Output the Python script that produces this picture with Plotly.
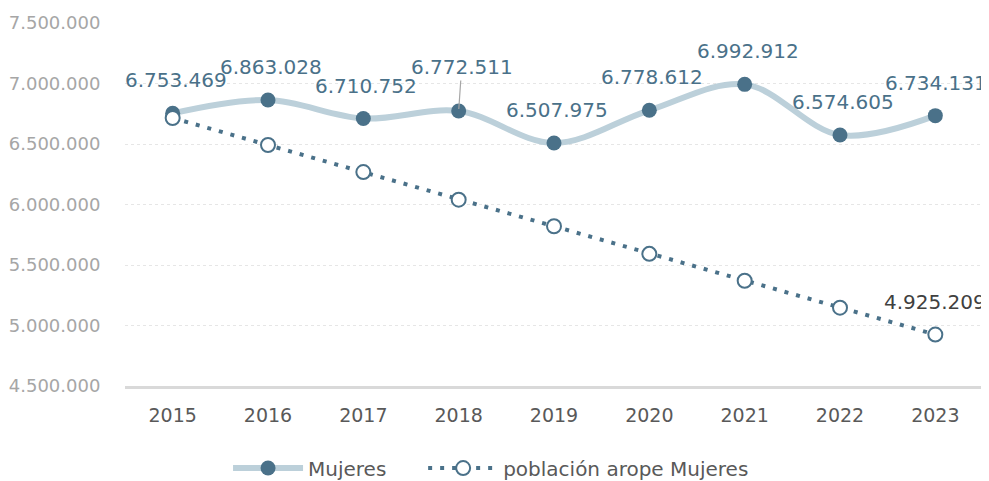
import plotly.graph_objects as go

years = [2015, 2016, 2017, 2018, 2019, 2020, 2021, 2022, 2023]
mujeres = [6753469, 6863028, 6710752, 6772511, 6507975, 6778612, 6992912, 6574605, 6734131]
arope = [6715000, 6492000, 6268000, 6040000, 5820000, 5592000, 5370000, 5147000, 4925209]
y_ticks = [4500000, 5000000, 5500000, 6000000, 6500000, 7000000, 7500000]
series_names = ["Mujeres", "población arope Mujeres"]


def fmt(v):
    return f"{v:,}".replace(",", ".")


FONT = "DejaVu Sans"
BLUE = "#4A7189"
LIGHT = "#BCD0DA"
PAD = "\u00a0" * 5

fig = go.Figure()
fig.add_trace(go.Scatter(
    x=years, y=mujeres, name=series_names[0] + PAD, mode="lines+markers",
    line=dict(color=LIGHT, width=6, shape="spline", smoothing=1.0),
    marker=dict(color=BLUE, size=15, line=dict(width=0)),
))
fig.add_trace(go.Scatter(
    x=years, y=arope, name=series_names[1], mode="lines+markers",
    line=dict(color=BLUE, width=4, dash="4px,8px"),
    marker=dict(color="white", size=14, line=dict(color=BLUE, width=2)),
))

annotations = []
for yr, v in zip(years, mujeres):
    if yr == 2018:
        annotations.append(dict(
            x=yr, y=v, xref="x", yref="y", text=fmt(v), showarrow=True, arrowhead=0,
            arrowwidth=1.2, arrowcolor="#A6A6A6", ax=3, ay=-44, standoff=2,
            font=dict(family=FONT, size=20, color=BLUE),
        ))
    else:
        annotations.append(dict(
            x=yr, y=v, xref="x", yref="y", text=fmt(v), showarrow=False, yshift=33,
            xshift=1 if yr == 2023 else 3,
            font=dict(family=FONT, size=20, color=BLUE),
        ))
annotations.append(dict(
    x=years[-1], y=arope[-1], xref="x", yref="y", text=fmt(arope[-1]), showarrow=False,
    yshift=33, font=dict(family=FONT, size=20, color="#404040"),
))

fig.update_layout(
    width=981, height=473,
    margin=dict(l=117, r=6, t=15, b=95, autoexpand=False),
    paper_bgcolor="white", plot_bgcolor="white",
    font=dict(family=FONT, size=17, color="#595959"),
    showlegend=True,
    legend=dict(orientation="h", xref="container", x=0.4924, xanchor="center",
                y=-0.226, yanchor="middle",
                font=dict(family=FONT, size=20, color="#595959"), itemwidth=70,
                traceorder="normal"),
    annotations=annotations,
    xaxis=dict(
        type="linear", range=[years[0] - 0.5, years[-1] + 0.5],
        tickvals=years, ticktext=[str(y) for y in years],
        showgrid=False, showline=True, linecolor="#D9D9D9", linewidth=3,
        ticks="outside", ticklen=10, tickcolor="rgba(0,0,0,0)",
        tickfont=dict(family=FONT, size=19, color="#595959"),
        zeroline=False, automargin=False,
    ),
    yaxis=dict(
        range=[4500000, 7500000], tickvals=y_ticks, ticktext=[fmt(t) for t in y_ticks],
        showgrid=True, gridcolor="#E6E6E6", gridwidth=1, griddash="dot",
        showline=False, zeroline=False, automargin=False,
        ticks="outside", ticklen=20, tickcolor="rgba(0,0,0,0)",
        tickfont=dict(family=FONT, size=18, color="#A6A6A6"),
    ),
)

fig.write_html("out.html")
